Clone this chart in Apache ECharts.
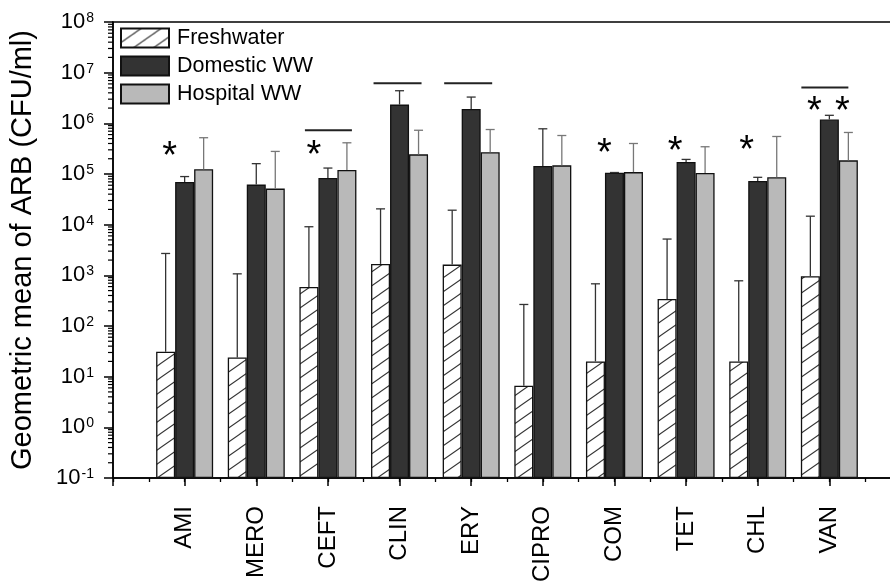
<!DOCTYPE html>
<html>
<head>
<meta charset="utf-8">
<script src="https://cdn.jsdelivr.net/npm/echarts@6/dist/echarts.min.js"></script>
<style>
  html, body { margin: 0; padding: 0; background: #fff; }
  #wrap { width: 890px; height: 585px; overflow: hidden; position: relative; }
  #chart { width: 905px; height: 585px; }
</style>
</head>
<body>
<div id="wrap"><div id="chart"></div></div>
<script>
// Antibiotic classes on the x axis
const categories = ['AMI', 'MERO', 'CEFT', 'CLIN', 'ERY', 'CIPRO', 'COM', 'TET', 'CHL', 'VAN'];

// Geometric means (CFU/ml) and upper ends of the error bars
const freshwater    = [31, 24, 590, 1680, 1630, 6.6, 20, 340, 20, 960];
const freshwaterErr = [2700, 1070, 9100, 20500, 19300, 266, 680, 5200, 780, 14700];
const domestic      = [69500, 61800, 83400, 2340000, 1920000, 144000, 106000, 172000, 72800, 1190000];
const domesticErr   = [89000, 160000, 131000, 4400000, 3300000, 780000, 107000, 194000, 86000, 1440000];
const hospital      = [124000, 51500, 120000, 244000, 270000, 148000, 109000, 105000, 86000, 186000];
const hospitalErr   = [520000, 279000, 413000, 730000, 755000, 575000, 400000, 345000, 550000, 660000];

// Significance markers: asterisks and bars (category, level in CFU/ml)
const starMarks    = [['AMI', 3.2e5], ['CEFT', 3.27e5], ['COM', 3.66e5], ['TET', 4.0e5], ['CHL', 4.2e5], ['VAN', 2.45e6], ['VAN', 2.45e6]];
const bracketMarks = [['CEFT', 7.3e5], ['CLIN', 6.2e6], ['ERY', 6.2e6], ['VAN', 5.1e6]];

// Y axis range (decades)
const yMin = 0.1, yMax = 1e8;

// ---- layout constants ----
const FONT = '"Liberation Sans", Arial, Helvetica, sans-serif';
const BAR_W = 19;
const starDx = [-15, -14, -10, -11, -11, -15, 13];
const bracketSpan = [[-23, 24], [-26, 22], [-27, 21], [-28, 19]];

// padded category list: one empty slot on each side of the groups
const axisCats = [''].concat(categories, ['']);
const idxOf = name => categories.indexOf(name) + 1;

// hatch tile for the freshwater bars
function hatchTile() {
  const W = 20, H = 14;
  const c = document.createElement('canvas');
  c.width = W; c.height = H;
  const g = c.getContext('2d');
  g.fillStyle = '#fff';
  g.fillRect(0, 0, W, H);
  g.strokeStyle = '#333';
  g.lineWidth = 1.1;
  for (const dy of [-H, 0, H]) {
    g.beginPath();
    g.moveTo(-2, H + dy + 1.4);
    g.lineTo(W + 2, dy - 1.4);
    g.stroke();
  }
  return c;
}
const hatch = { image: hatchTile(), repeat: 'repeat' };

const chart = echarts.init(document.getElementById('chart'));

function barSeries(name, values, color) {
  return {
    name: name,
    type: 'bar',
    barWidth: BAR_W,
    barGap: '0%',
    data: values.map((v, i) => [i + 1, v]),
    itemStyle: { color: color, borderColor: '#111', borderWidth: 1.3 },
    z: 2
  };
}

function errSeries(name, values, tops, dx, color) {
  return {
    type: 'custom',
    name: name + ' err',
    data: values.map((v, i) => [i + 1, v, tops[i]]),
    z: 3,
    clip: false,
    renderItem: function (params, api) {
      const b = api.coord([api.value(0), api.value(1)]);
      const t = api.coord([api.value(0), api.value(2)]);
      const x = b[0] + dx;
      return {
        type: 'group',
        children: [
          { type: 'line', shape: { x1: x, y1: b[1], x2: x, y2: t[1] }, style: { stroke: color, lineWidth: 1.3 } },
          { type: 'line', shape: { x1: x - 4.5, y1: t[1], x2: x + 4.5, y2: t[1] }, style: { stroke: color, lineWidth: 1.3 } }
        ]
      };
    }
  };
}

// minor ticks of the log axis at 2..9 x 10^k
const minorTicks = [];
for (let k = -1; k < 8; k++) for (let m = 2; m <= 9; m++) minorTicks.push([0, m * Math.pow(10, k)]);

const option = {
  animation: false,
  backgroundColor: '#fff',
  textStyle: { fontFamily: FONT },
  grid: { left: 111, right: 4, top: 22, bottom: 105, show: true, borderColor: '#000', borderWidth: 1.5, backgroundColor: 'transparent' },
  legend: {
    orient: 'vertical',
    left: 115,
    top: 22,
    itemWidth: 48,
    itemHeight: 19,
    itemGap: 6,
    icon: 'rect',
    data: ['Freshwater', 'Domestic WW', 'Hospital WW'],
    textStyle: { fontSize: 21.5, color: '#000', fontFamily: FONT, padding: [0, 0, 0, 3] }
  },
  xAxis: [
    {
      type: 'category',
      data: axisCats,
      boundaryGap: false,
      axisLine: { show: true, lineStyle: { color: '#000', width: 1.5 } },
      axisTick: { show: true, interval: 0, length: 8, lineStyle: { color: '#000', width: 1.5 } },
      axisLabel: { interval: 0, rotate: 90, margin: 28, fontSize: 24, color: '#000', fontFamily: FONT },
      splitLine: { show: false }
    },
    {
      type: 'category',
      data: new Array(axisCats.length * 2 - 1).fill(''),
      boundaryGap: false,
      position: 'bottom',
      axisLine: { show: false },
      axisTick: { show: true, interval: 0, length: 4, lineStyle: { color: '#000', width: 1.3 } },
      axisLabel: { show: false },
      splitLine: { show: false }
    }
  ],
  yAxis: {
    type: 'log',
    logBase: 10,
    min: yMin,
    max: yMax,
    startValue: yMin,
    splitNumber: 9,
    name: 'Geometric mean of ARB (CFU/ml)',
    nameLocation: 'middle',
    nameRotate: 90,
    nameGap: 76,
    nameTextStyle: { fontSize: 29, color: '#000', fontFamily: FONT },
    axisLine: { show: true, lineStyle: { color: '#000', width: 1.5 } },
    axisTick: { show: true, length: 9, lineStyle: { color: '#000', width: 1.5 } },
    splitLine: { show: false },
    axisLabel: {
      margin: 19,
      color: '#000',
      formatter: function (v) {
        const e = Math.round(Math.log10(v));
        return '{b|10}{s|' + e + '}';
      },
      rich: {
        b: { fontSize: 22, lineHeight: 22, verticalAlign: 'bottom', fontFamily: FONT, color: '#000' },
        s: { fontSize: 14, lineHeight: 14, verticalAlign: 'top', padding: [0, 0, 15, 1], fontFamily: FONT, color: '#000' }
      }
    }
  },
  series: [
    barSeries('Freshwater', freshwater, hatch),
    barSeries('Domestic WW', domestic, '#333333'),
    barSeries('Hospital WW', hospital, '#b9b9b9'),
    errSeries('Freshwater', freshwater, freshwaterErr, -BAR_W, '#333'),
    errSeries('Domestic WW', domestic, domesticErr, 0, '#333'),
    errSeries('Hospital WW', hospital, hospitalErr, BAR_W, '#777'),
    {
      // minor log ticks on the left spine
      type: 'custom',
      name: 'minor ticks',
      data: minorTicks,
      clip: false,
      silent: true,
      renderItem: function (params, api) {
        const p = api.coord([1, api.value(1)]);
        const x0 = params.coordSys.x;
        return { type: 'line', shape: { x1: x0 - 5, y1: p[1], x2: x0, y2: p[1] }, style: { stroke: '#000', lineWidth: 1.2 } };
      }
    },
    {
      // significance asterisks
      type: 'custom',
      name: 'stars',
      data: starMarks.map((s, i) => [idxOf(s[0]), s[1], starDx[i]]),
      clip: false,
      silent: true,
      z: 4,
      renderItem: function (params, api) {
        const p = api.coord([api.value(0), api.value(1)]);
        return {
          type: 'text',
          x: p[0] + api.value(2),
          y: p[1] + 9,
          style: { text: '*', fontSize: 38, fontFamily: FONT, fill: '#000', align: 'center', verticalAlign: 'middle' }
        };
      }
    },
    {
      // comparison bars
      type: 'custom',
      name: 'brackets',
      data: bracketMarks.map((b, i) => [idxOf(b[0]), b[1], bracketSpan[i][0], bracketSpan[i][1]]),
      clip: false,
      silent: true,
      z: 4,
      renderItem: function (params, api) {
        const p = api.coord([api.value(0), api.value(1)]);
        return {
          type: 'line',
          shape: { x1: p[0] + api.value(2), y1: p[1], x2: p[0] + api.value(3), y2: p[1] },
          style: { stroke: '#222', lineWidth: 2 }
        };
      }
    }
  ]
};

chart.setOption(option);
</script>
</body>
</html>
